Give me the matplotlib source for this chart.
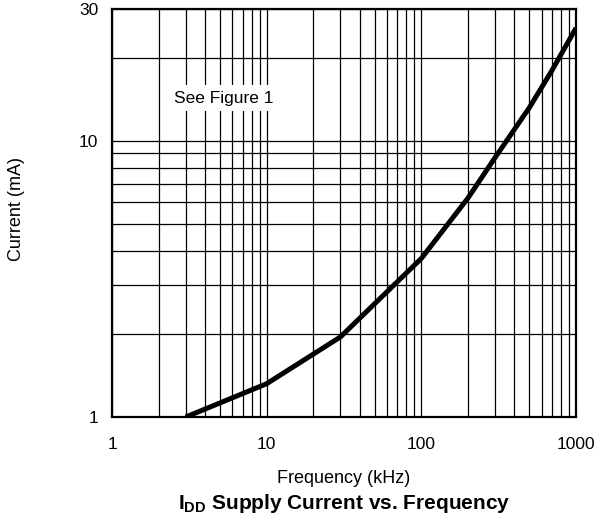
import matplotlib
matplotlib.use("Agg")
from matplotlib import pyplot as plt
from matplotlib.ticker import LogLocator, FixedLocator, FixedFormatter, NullFormatter

plt.rcParams['font.family'] = ['Liberation Sans', 'DejaVu Sans']
plt.rcParams['mathtext.fontset'] = 'custom'
plt.rcParams['mathtext.rm'] = 'Liberation Sans'
plt.rcParams['mathtext.bf'] = 'Liberation Sans:bold'

# curve
freq_khz = [3, 10, 30, 100, 200, 300, 500, 700, 1000]
current_ma = [1.0, 1.32, 1.95, 3.75, 6.2, 8.7, 13.2, 18.0, 25.6]

x_ticks = [1, 10, 100, 1000]
x_labels = ['1', '10', '100', '1000']
y_ticks = [1, 10, 30]
y_labels = ['1', '10', '30']

fig = plt.figure(figsize=(6, 5.21), dpi=100)
ax = fig.add_axes([0.1867, 0.1996, 0.7733, 0.7831])

ax.plot(freq_khz, current_ma, color='black', lw=3.6, solid_capstyle='butt', zorder=3)

ax.set_xscale('log')
ax.set_yscale('log')
ax.set_xlim(1, 1000)
ax.set_ylim(1, 30)

ax.xaxis.set_major_locator(FixedLocator(x_ticks))
ax.xaxis.set_major_formatter(FixedFormatter(x_labels))
ax.xaxis.set_minor_locator(LogLocator(base=10, subs=range(2, 10)))
ax.xaxis.set_minor_formatter(NullFormatter())
ax.yaxis.set_major_locator(FixedLocator(y_ticks))
ax.yaxis.set_major_formatter(FixedFormatter(y_labels))
ax.yaxis.set_minor_locator(LogLocator(base=10, subs=range(2, 10)))
ax.yaxis.set_minor_formatter(NullFormatter())

ax.grid(True, which='both', color='black', lw=0.9)
ax.tick_params(which='both', length=0, labelsize=12.5)
ax.tick_params(axis='x', pad=14.5)
ax.tick_params(axis='y', pad=10)
for s in ax.spines.values():
    s.set_linewidth(1.6)

ax.text(0.240, 0.770, 'See Figure 1', transform=ax.transAxes, ha='center', va='baseline',
        fontsize=12.5, bbox=dict(facecolor='white', edgecolor='none', pad=4), zorder=4)

fig.text(0.028, 0.599, 'Current (mA)', rotation=90, ha='center', va='center', fontsize=13)
fig.text(0.573, 0.0729, 'Frequency (kHz)', ha='center', va='baseline', fontsize=13)
fig.text(0.573, 0.023, r'$\mathbf{I_{DD}}$ Supply Current vs. Frequency', ha='center', va='baseline',
         fontsize=15, fontweight='bold')

fig.savefig('out.png', dpi=100)
